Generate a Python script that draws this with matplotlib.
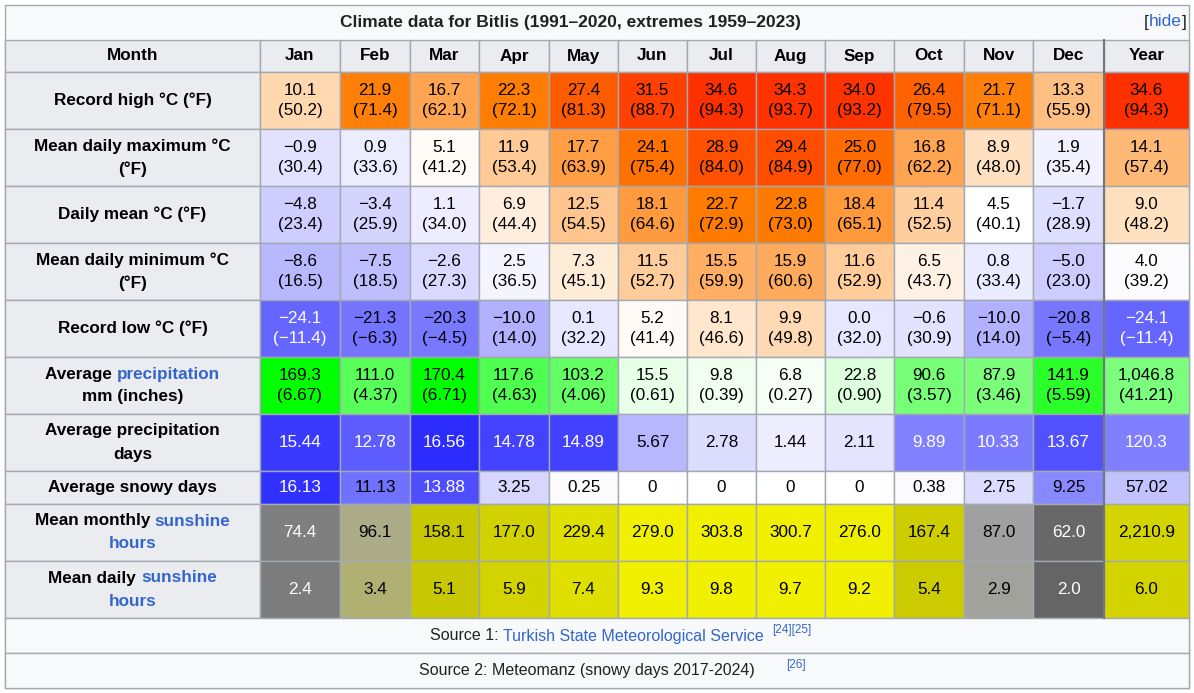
import matplotlib
matplotlib.use("Agg")
import matplotlib.pyplot as plt
import numpy as np
from matplotlib.patches import Rectangle

plt.rcParams['font.family'] = ['Liberation Sans', 'DejaVu Sans']

months = ["Jan", "Feb", "Mar", "Apr", "May", "Jun", "Jul", "Aug", "Sep", "Oct", "Nov", "Dec", "Year"]

record_high_c = [10.1, 21.9, 16.7, 22.3, 27.4, 31.5, 34.6, 34.3, 34.0, 26.4, 21.7, 13.3, 34.6]
record_high_f = [50.2, 71.4, 62.1, 72.1, 81.3, 88.7, 94.3, 93.7, 93.2, 79.5, 71.1, 55.9, 94.3]
mean_max_c = [-0.9, 0.9, 5.1, 11.9, 17.7, 24.1, 28.9, 29.4, 25.0, 16.8, 8.9, 1.9, 14.1]
mean_max_f = [30.4, 33.6, 41.2, 53.4, 63.9, 75.4, 84.0, 84.9, 77.0, 62.2, 48.0, 35.4, 57.4]
daily_mean_c = [-4.8, -3.4, 1.1, 6.9, 12.5, 18.1, 22.7, 22.8, 18.4, 11.4, 4.5, -1.7, 9.0]
daily_mean_f = [23.4, 25.9, 34.0, 44.4, 54.5, 64.6, 72.9, 73.0, 65.1, 52.5, 40.1, 28.9, 48.2]
mean_min_c = [-8.6, -7.5, -2.6, 2.5, 7.3, 11.5, 15.5, 15.9, 11.6, 6.5, 0.8, -5.0, 4.0]
mean_min_f = [16.5, 18.5, 27.3, 36.5, 45.1, 52.7, 59.9, 60.6, 52.9, 43.7, 33.4, 23.0, 39.2]
record_low_c = [-24.1, -21.3, -20.3, -10.0, 0.1, 5.2, 8.1, 9.9, 0.0, -0.6, -10.0, -20.8, -24.1]
record_low_f = [-11.4, -6.3, -4.5, 14.0, 32.2, 41.4, 46.6, 49.8, 32.0, 30.9, 14.0, -5.4, -11.4]
precip_mm = [169.3, 111.0, 170.4, 117.6, 103.2, 15.5, 9.8, 6.8, 22.8, 90.6, 87.9, 141.9, 1046.8]
precip_in = [6.67, 4.37, 6.71, 4.63, 4.06, 0.61, 0.39, 0.27, 0.90, 3.57, 3.46, 5.59, 41.21]
precip_days = [15.44, 12.78, 16.56, 14.78, 14.89, 5.67, 2.78, 1.44, 2.11, 9.89, 10.33, 13.67, 120.3]
snowy_days = [16.13, 11.13, 13.88, 3.25, 0.25, 0, 0, 0, 0, 0.38, 2.75, 9.25, 57.02]
sun_monthly = [74.4, 96.1, 158.1, 177.0, 229.4, 279.0, 303.8, 300.7, 276.0, 167.4, 87.0, 62.0, 2210.9]
sun_daily = [2.4, 3.4, 5.1, 5.9, 7.4, 9.3, 9.8, 9.7, 9.2, 5.4, 2.9, 2.0, 6.0]

LINK = '#3366cc'
BORDER = '#a2a9b1'
HEAD = '#eaecf0'


def fmt(v, spec):
    return format(v, spec).replace('-', '\u2212')


def temp_color(t):
    if t < 4.5:
        v = np.clip((t + 42.75) / 47.25, 0, 1)
        return (v, v, 1.0)
    g = np.interp(t, [4.5, 10.1, 16.7, 21.9, 31.5, 34.6, 45], [255, 216, 165, 128, 64, 48, 0]) / 255
    b = np.clip(1 - (t - 4.5) / 18.0, 0, 1)
    return (1.0, g, b)


def precip_color(mm):
    v = np.clip(1 - mm / 170.0, 0, 1)
    return (v, 1.0, v)


def days_color(d):
    v = np.clip(1 - d / 20.0, 0, 1)
    return (v, v, 1.0)


def sun_color(h):
    rg = np.interp(h, [60, 75, 87, 96, 130, 158, 177, 230, 280, 310],
                   [100, 128, 160, 172, 190, 200, 210, 224, 240, 240])
    b = np.interp(h, [60, 75, 87, 96, 130, 158], [100, 128, 160, 136, 40, 0])
    return (rg / 255, rg / 255, b / 255)


fig = plt.figure(figsize=(11.94, 6.93), dpi=100)
ax = fig.add_axes([0, 0, 1, 1])
ax.set_xlim(0, 1194)
ax.set_ylim(693, 0)
ax.axis('off')
renderer = fig.canvas.get_renderer()

col_x = [5, 260, 340, 410, 479, 549, 618, 687, 756, 825, 894, 964, 1033, 1104, 1189]
row_y = [40, 72, 129, 186, 243, 300, 357, 414, 471, 504, 561, 618]
FS = 12.3


def cell(x0, x1, y0, y1, fc):
    ax.add_patch(Rectangle((x0, y0), x1 - x0, y1 - y0, facecolor=fc, edgecolor=BORDER, lw=1))


def rich_line(cx, cy, parts, size=FS, weight='bold'):
    # parts: list of (text, colour); drawn centred at cx
    widths = []
    for s, c in parts:
        t = ax.text(0, 0, s, fontsize=size, fontweight=weight)
        widths.append(t.get_window_extent(renderer).width)
        t.remove()
    x = cx - sum(widths) / 2
    for (s, c), w in zip(parts, widths):
        ax.text(x, cy, s, fontsize=size, fontweight=weight, color=c, ha='left', va='center')
        x += w


# outer frame and title
ax.add_patch(Rectangle((5, 5), 1184, 683, facecolor='#f8f9fa', edgecolor=BORDER, lw=1))
ax.text(570, 22, "Climate data for Bitlis (1991\u20132020, extremes 1959\u20132023)",
        fontsize=12.5, fontweight='bold', ha='center', va='center', color='#202122')
rich_line(1165, 22, [("[", '#202122'), ("hide", LINK), ("]", '#202122')], size=12.5, weight='normal')

# header row
cell(col_x[0], col_x[1], row_y[0], row_y[1], HEAD)
ax.text((col_x[0] + col_x[1]) / 2, 56, "Month", fontsize=FS, fontweight='bold', ha='center', va='center')
for i, m in enumerate(months):
    cell(col_x[i + 1], col_x[i + 2], row_y[0], row_y[1], HEAD)
    ax.text((col_x[i + 1] + col_x[i + 2]) / 2, 56, m, fontsize=FS, fontweight='bold', ha='center', va='center')

labels = [
    [[("Record high \u00b0C (\u00b0F)", 'black')]],
    [[("Mean daily maximum \u00b0C", 'black')], [("(\u00b0F)", 'black')]],
    [[("Daily mean \u00b0C (\u00b0F)", 'black')]],
    [[("Mean daily minimum \u00b0C", 'black')], [("(\u00b0F)", 'black')]],
    [[("Record low \u00b0C (\u00b0F)", 'black')]],
    [[("Average ", 'black'), ("precipitation", LINK)], [("mm (inches)", 'black')]],
    [[("Average precipitation", 'black')], [("days", 'black')]],
    [[("Average snowy days", 'black')]],
    [[("Mean monthly ", 'black'), ("sunshine", LINK)], [("hours", LINK)]],
    [[("Mean daily ", 'black'), ("sunshine", LINK)], [("hours", LINK)]],
]

rows = []
for c, f in [(record_high_c, record_high_f), (mean_max_c, mean_max_f), (daily_mean_c, daily_mean_f),
             (mean_min_c, mean_min_f), (record_low_c, record_low_f)]:
    rows.append([(temp_color(a), fmt(a, '.1f') + "\n(" + fmt(b, '.1f') + ")",
                  'white' if a < -23 else 'black') for a, b in zip(c, f)])
rows.append([(precip_color(a / 12 if i == 12 else a), fmt(a, ',.1f') + "\n(" + fmt(b, '.2f') + ")", 'black')
             for i, (a, b) in enumerate(zip(precip_mm, precip_in))])
rows.append([(days_color(a / 12 if i == 12 else a), fmt(a, 'g'), 'white' if (a / 12 if i == 12 else a) > 8 else 'black')
             for i, a in enumerate(precip_days)])
rows.append([(days_color(a / 12 if i == 12 else a), fmt(a, 'g'), 'white' if (a / 12 if i == 12 else a) > 12 else 'black')
             for i, a in enumerate(snowy_days)])
rows.append([(sun_color(a / 12 if i == 12 else a), fmt(a, ',.1f'), 'white' if (a / 12 if i == 12 else a) < 80 else 'black')
             for i, a in enumerate(sun_monthly)])
rows.append([(sun_color(a * 30.4), fmt(a, '.1f'), 'white' if a * 30.4 < 80 else 'black')
             for a in sun_daily])

for r, (lab, vals) in enumerate(zip(labels, rows)):
    y0, y1 = row_y[r + 1], row_y[r + 2]
    cy = (y0 + y1) / 2
    cell(col_x[0], col_x[1], y0, y1, HEAD)
    n = len(lab)
    for k, parts in enumerate(lab):
        rich_line((col_x[0] + col_x[1]) / 2, cy + (k - (n - 1) / 2) * 23, parts)
    for i, (fc, txt, tc) in enumerate(vals):
        cell(col_x[i + 1], col_x[i + 2], y0, y1, fc)
        ax.text((col_x[i + 1] + col_x[i + 2]) / 2, cy, txt, fontsize=FS, ha='center', va='center',
                color=tc, linespacing=1.35)

# year column separator
ax.plot([1104, 1104], [40, 618], color='#72777d', lw=1.5)

# sources
cell(5, 1189, 618, 653, '#f8f9fa')
cell(5, 1189, 653, 688, '#f8f9fa')
rich_line(597, 636, [("Source 1: ", '#202122'), ("Turkish State Meteorological Service", LINK)], size=11.5, weight='normal')
ax.text(772, 630, "[24][25]", fontsize=8.5, color=LINK, ha='left', va='center')
rich_line(587, 671, [("Source 2: Meteomanz (snowy days 2017-2024)", '#202122')], size=11.5, weight='normal')
ax.text(786, 665, "[26]", fontsize=8.5, color=LINK, ha='left', va='center')

fig.savefig("out.png", dpi=100)
